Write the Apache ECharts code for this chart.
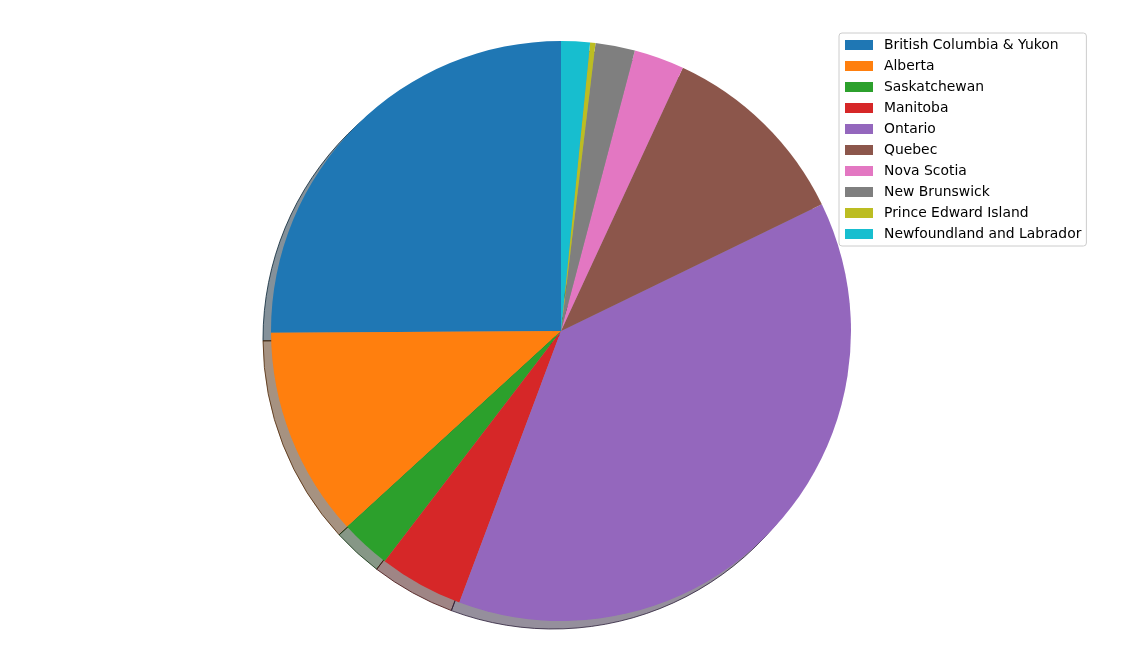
<!DOCTYPE html>
<html>
<head>
<meta charset="utf-8">
<script src="https://cdn.jsdelivr.net/npm/echarts@6/dist/echarts.min.js"></script>
<style>
  html, body { margin: 0; padding: 0; background: #fff; }
  #piebox { width: 1127px; height: 668px; }
</style>
</head>
<body>
<div id="piebox"></div>
<script>
// 各省份占比（从图上估读，单位 %）
var provinces = ['British Columbia & Yukon', 'Alberta', 'Saskatchewan', 'Manitoba', 'Ontario',
    'Quebec', 'Nova Scotia', 'New Brunswick', 'Prince Edward Island', 'Newfoundland and Labrador'];
var shares = [25.1, 11.7, 2.8, 4.7, 37.9, 10.9, 2.8, 2.2, 0.3, 1.6];
var colors = ['#1f77b4', '#ff7f0e', '#2ca02c', '#d62728', '#9467bd',
    '#8c564b', '#e377c2', '#7f7f7f', '#bcbd22', '#17becf'];

/**
 * 阴影颜色：原色 * 0.3，透明度 alpha
 */
function shadeOf(hex, alpha) {
    var r = parseInt(hex.slice(1, 3), 16), g = parseInt(hex.slice(3, 5), 16), b = parseInt(hex.slice(5, 7), 16);
    return 'rgba(' + Math.round(r * 0.3) + ',' + Math.round(g * 0.3) + ',' + Math.round(b * 0.3) + ',' + alpha + ')';
}

function initPie() {
    var pieChart = echarts.init(document.getElementById('piebox'));
    let option = {
        animation: false,
        legend: {
            orient: 'vertical',
            left: 839,
            top: 33,
            data: provinces,
            itemWidth: 28,
            itemHeight: 10,
            itemGap: 7,
            icon: 'rect',
            padding: [5, 5, 5, 6],
            borderColor: '#cccccc',
            borderWidth: 1,
            borderRadius: 3,
            backgroundColor: 'rgba(255,255,255,0.8)',
            textStyle: {
                fontFamily: 'DejaVu Sans',
                fontSize: 13.9,
                color: '#000',
                lineHeight: 14,
                padding: [0, 0, 0, 6]
            }
        },
        series: [{
            type: 'pie',
            z: 3,
            center: [561, 331],
            radius: 290,
            startAngle: 90,
            clockwise: false,
            label: { show: false },
            labelLine: { show: false },
            emphasis: { disabled: true },
            data: provinces.map(function (name, idx) {
                return { name: name, value: shares[idx], itemStyle: { color: colors[idx] } };
            })
        }, {
            type: 'pie',
            z: 1,
            silent: true,
            legendHoverLink: false,
            center: [553, 339],
            radius: 290,
            startAngle: 90,
            clockwise: false,
            label: { show: false },
            labelLine: { show: false },
            emphasis: { disabled: true },
            data: provinces.map(function (name, idx) {
                return {
                    name: name, value: shares[idx],
                    itemStyle: { color: shadeOf(colors[idx], 0.5), borderColor: shadeOf(colors[idx], 0.8), borderWidth: 1 }
                };
            })
        }]
    };
    pieChart.setOption(option);
}

initPie();
</script>
</body>
</html>
